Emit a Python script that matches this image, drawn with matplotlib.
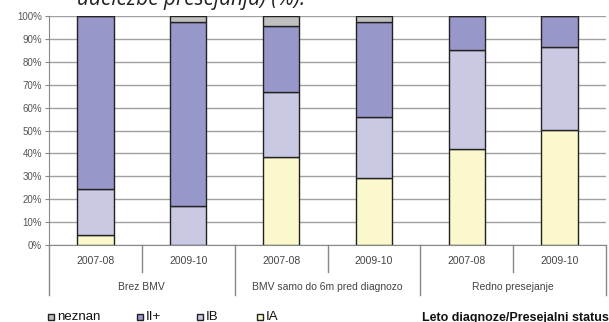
import numpy as np
from matplotlib import pyplot as plt

plt.rcParams['font.family'] = ['Liberation Sans', 'DejaVu Sans']

years = ["2007-08", "2009-10", "2007-08", "2009-10", "2007-08", "2009-10"]
groups = ["Brez BMV", "BMV samo do 6m pred diagnozo", "Redno presejanje"]

# stacked shares (%) per bar, bottom to top
ia = [4.5, 0.0, 38.5, 29.3, 42.0, 50.3]
ib = [20.0, 17.0, 28.5, 26.7, 43.0, 36.2]
ii_plus = [75.5, 80.3, 28.5, 41.5, 15.0, 13.5]
neznan = [0.0, 2.7, 4.5, 2.5, 0.0, 0.0]

series = [("IA", ia, "#faf8cc"), ("IB", ib, "#c9c9e4"),
          ("II+", ii_plus, "#9797ca"), ("neznan", neznan, "#c0c0c0")]

fig = plt.figure(figsize=(6.09, 3.22), dpi=100)
ax = fig.add_axes([49 / 609, 1 - 245 / 322, (606 - 49) / 609, (245 - 16) / 322])

x = np.arange(len(years))
bottom = np.zeros(len(years))
for name, vals, col in series:
    ax.bar(x, vals, 0.39, bottom=bottom, color=col, edgecolor="#222222",
           linewidth=1.0, zorder=3)
    bottom += np.array(vals)

ax.set_xlim(-0.5, len(years) - 0.5)
ax.set_ylim(0, 100)
ax.set_yticks(np.arange(0, 101, 10))
ax.set_yticklabels([f"{v}%" for v in range(0, 101, 10)], color="#555555", fontsize=7)
ax.tick_params(axis="y", length=3, color="#888888", pad=2)
ax.yaxis.grid(True, color="#a0a0a0", linewidth=1.0, zorder=0)
ax.set_xticks([])
for s in ["top", "right"]:
    ax.spines[s].set_visible(False)
ax.spines["left"].set_color("#888888")
ax.spines["bottom"].set_color("#888888")

# two-level category axis
tr = ax.get_xaxis_transform()
for i, yr in enumerate(years):
    ax.text(i, -0.07, yr, transform=tr, ha="center", va="center",
            fontsize=7.5, color="#444444")
for b in np.arange(-0.5, len(years), 1.0):
    low = -0.218 if int(b + 0.5) % 2 == 0 else -0.118
    ax.plot([b, b], [0, low], transform=tr, color="#888888", lw=1.0, clip_on=False)
for g, name in enumerate(groups):
    ax.text(2 * g + 0.5, -0.183, name, transform=tr, ha="center", va="center",
            fontsize=7.5, color="#444444")

# cropped caption at the top
fig.text(77 / 609, 1 - 4.5 / 322, "udeležbe presejanja) (%).", family="Open Sans",
         style="italic", fontsize=15, color="#222222", ha="left", va="baseline")

# legend
leg = [("neznan", "#c0c0c0", 48), ("II+", "#9797ca", 137),
       ("IB", "#c9c9e4", 197), ("IA", "#faf8cc", 257)]
for name, col, px in leg:
    fig.patches.append(plt.Rectangle((px / 609, 1 - 320 / 322), 6 / 609, 6 / 322,
                                     transform=fig.transFigure, facecolor=col,
                                     edgecolor="#222222", linewidth=1.0))
    fig.text((px + 9) / 609, 1 - 317 / 322, name, fontsize=9.5, color="#111111",
             ha="left", va="center")
fig.text(609 / 609, 1 - 317.5 / 322, "Leto diagnoze/Presejalni status", fontsize=9,
         fontweight="bold", color="#111111", ha="right", va="center")

fig.savefig("out.png", dpi=100)
